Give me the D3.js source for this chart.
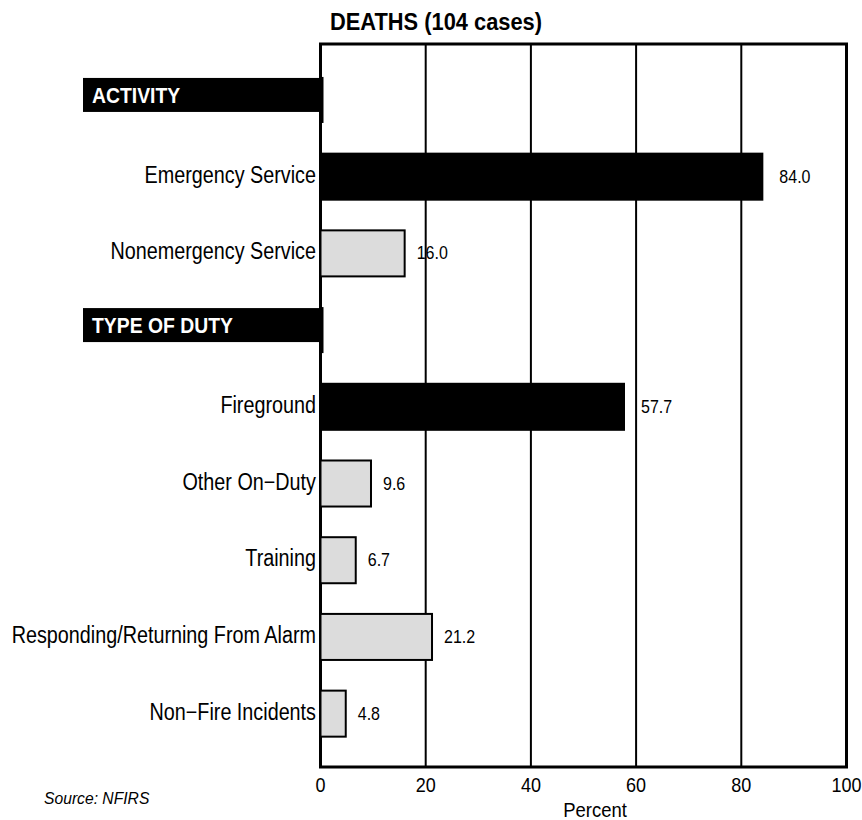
<!DOCTYPE html>
<html><head><meta charset="utf-8">
<script src="https://cdn.jsdelivr.net/npm/d3@7"></script>
<style>
body{margin:0;background:#fff;}
text{font-family:"Liberation Sans",Arial,sans-serif;}
</style></head>
<body><svg id="c" width="862" height="820"></svg>
<script>
const rows = ["ACTIVITY","Emergency Service","Nonemergency Service","TYPE OF DUTY","Fireground","Other On\u2212Duty","Training","Responding/Returning From Alarm","Non\u2212Fire Incidents"];
const values = [0,84.0,16.0,0,57.7,9.6,6.7,21.2,4.8];
const isHeader = [true,false,false,true,false,false,false,false,false];
const isDark = [false,true,false,false,true,false,false,false,false];
const xTicks = [0,20,40,60,80,100];
const title = "DEATHS (104 cases)";
const xTitle = "Percent";
const source = "Source: NFIRS";

(function(){
const svg = d3.select("#c");
const x = d3.scaleLinear().domain([0,100]).range([320.5,846.5]);
const y = d3.scaleBand().domain(rows).range([61.6,752]).paddingInner(0.4).paddingOuter(0.2);
const yTop = 44, yBot = 767;
const SX = 0.86;
const tf = (px,py,s)=>`translate(${px},${py}) scale(${s},1)`;

svg.append("g").selectAll("line").data(xTicks.slice(1,-1)).join("line")
  .attr("x1",d=>x(d)).attr("x2",d=>x(d)).attr("y1",yTop).attr("y2",yBot)
  .attr("stroke","#000").attr("stroke-width",2);

svg.append("path").attr("d",`M${x(0)},${yTop}H${x(100)}V${yBot}H${x(0)}Z`)
  .attr("fill","none").attr("stroke","#000").attr("stroke-width",3);

const hdr = rows.map((r,i)=>({r,i})).filter(d=>isHeader[d.i]);
svg.append("g").selectAll("rect").data(hdr).join("rect")
  .attr("x",83).attr("width",x(0)-83).attr("y",d=>y(d.r)+1).attr("height",34).attr("fill","#000");
svg.append("g").selectAll("text").data(hdr).join("text")
  .attr("transform",d=>tf(92,y(d.r)+26,0.88)).attr("fill","#fff").attr("font-weight","bold")
  .attr("font-size",22).text(d=>d.r);

const data = rows.map((r,i)=>({r,v:values[i],i}));
svg.append("g").selectAll("rect").data(data).join("rect")
  .attr("x",x(0)).attr("y",d=>y(d.r)).attr("height",y.bandwidth())
  .attr("width",d=>isHeader[d.i]?3:x(d.v)-x(0))
  .attr("fill",d=>(isDark[d.i]||isHeader[d.i])?"#000":"#dcdcdc")
  .attr("stroke","#000").attr("stroke-width",d=>isHeader[d.i]?0:2);

svg.append("g").selectAll("text").data(data.filter(d=>!isHeader[d.i])).join("text")
  .attr("transform",d=>tf(316,y(d.r)+y.bandwidth()/2+6,SX)).attr("text-anchor","end")
  .attr("font-size",23).text(d=>d.r);

svg.append("g").selectAll("text").data(data.filter(d=>!isHeader[d.i])).join("text")
  .attr("transform",d=>tf(x(d.v)+(isDark[d.i]?17:12),y(d.r)+y.bandwidth()/2+6,0.89))
  .attr("font-size",18).text(d=>d.v.toFixed(1));

svg.append("g").selectAll("text").data(xTicks).join("text")
  .attr("transform",d=>tf(x(d),792,0.9)).attr("text-anchor","middle").attr("font-size",20).text(d=>d);
svg.append("text").attr("transform",tf(595,817,0.88)).attr("text-anchor","middle").attr("font-size",21).text(xTitle);

svg.append("text").attr("transform",tf(436,30,0.91)).attr("text-anchor","middle").attr("font-weight","bold")
  .attr("font-size",24).text(title);

svg.append("text").attr("transform",tf(44,804,0.98)).attr("font-style","italic").attr("font-size",16).text(source);
})();
</script></body></html>
